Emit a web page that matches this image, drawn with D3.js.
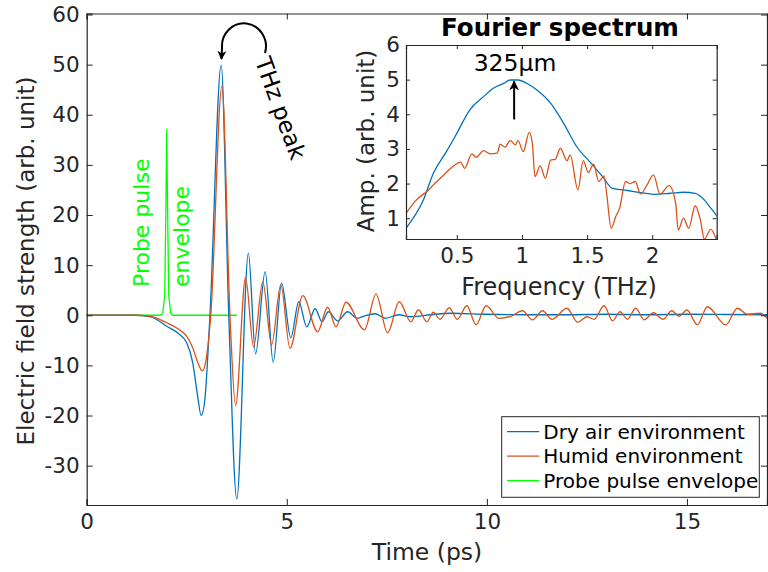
<!DOCTYPE html>
<html><head><meta charset="utf-8">
<script src="https://cdn.jsdelivr.net/npm/d3@7"></script>
<style>
html,body{margin:0;padding:0;background:#fff;}
svg text{font-family:"DejaVu Sans",sans-serif;fill:#262626;}
</style></head>
<body><svg id="c" width="768" height="572"></svg>
<script>
// ---------- data ----------
const timeDry = [0,1.2,1.6,2.0,2.3,2.5,2.65,2.77,2.86,2.95,3.08,3.36,3.55,3.75,4.04,4.22,4.46,4.66,4.87,5.1,5.3,5.5,5.71,5.88,6.04,6.27,6.52,6.76,6.95,7.2,7.47,7.8,8.1,8.6,9.1,10,11,12,13,14,15,16,17];
const valDry  = [0,0,-0.3,-2.2,-3.7,-5.5,-9.5,-16,-20,-17,0,49.9,0,-36.6,12.4,-7.7,8.7,-9.4,6.4,-4.5,2.7,-2.3,1.3,-1.3,0.7,-1.1,0.7,-0.6,-0.1,0.3,-0.6,0.1,-0.3,0.1,0.4,0.2,0.1,0.1,0.2,0.1,0.2,0.15,0.1];

const timeHumid = [0,1.2,1.6,2.0,2.3,2.5,2.65,2.78,2.89,2.98,3.1,3.38,3.58,3.72,3.97,4.17,4.4,4.62,4.85,5.08,5.4,5.77,6.02,6.23,6.48,6.94,7.23,7.52,7.81,8.1,8.29,8.5,8.66,8.83,9.06,9.26,9.5,9.73,9.98,10.3,10.6,10.89,11.14,11.39,11.63,12.0,12.27,12.5,12.68,12.93,13.14,13.33,13.51,13.72,13.93,14.16,14.4,14.62,14.8,15.0,15.26,15.51,15.97,16.26,16.51,16.84,17.0];
const valHumid  = [0,0,-0.2,-1.5,-2.8,-4.2,-6.5,-9.5,-11.1,-9,0,45.7,0,-18,7.5,-6.3,6.7,-5.9,6.1,-6.6,3.9,-3.3,1.6,-2.3,2.6,-2.9,4.2,-3.5,2.7,-1.3,1.1,-1.3,0.6,-0.8,1.5,-0.8,1.9,-1.9,1.9,-0.6,-0.2,0.9,-0.9,0.9,-0.8,1.4,-1.4,-0.3,-0.8,1.9,-1.1,0.7,-0.8,1.4,-0.9,0.5,-0.8,0.9,-0.2,1.05,-1.9,1.7,-1.9,1.4,0.2,0.4,-0.6];

const timeProbe = [0,1.85,1.9,1.95,1.98,2.0,2.02,2.05,2.1,2.15,3.75];
const valProbe  = [0,0,0.4,4,22,37.2,22,4,0.4,0,0];

const freqDry = [0.11,0.244,0.32,0.42,0.5,0.6,0.705,0.78,0.86,0.91,0.97,1.04,1.115,1.22,1.32,1.42,1.53,1.63,1.69,1.81,1.91,2.01,2.14,2.24,2.33,2.4,2.45,2.5];
const ampDry  = [0.71,1.53,2.3,2.92,3.45,4.13,4.51,4.75,4.89,4.99,4.99,4.89,4.7,4.32,3.74,3.07,2.59,2.15,1.87,1.8,1.74,1.69,1.72,1.75,1.72,1.53,1.29,1.05];

const freqHumid = [0.11,0.19,0.27,0.33,0.4,0.47,0.53,0.56,0.615,0.65,0.705,0.756,0.81,0.833,0.87,0.91,0.95,0.97,1.01,1.056,1.08,1.10,1.14,1.18,1.22,1.256,1.295,1.346,1.37,1.43,1.47,1.51,1.55,1.59,1.63,1.65,1.685,1.72,1.75,1.795,1.83,1.87,1.91,1.96,2.01,2.06,2.13,2.18,2.2,2.24,2.28,2.33,2.37,2.40,2.45,2.49];
const ampHumid  = [1.14,1.53,1.77,2.0,2.25,2.49,2.62,2.44,2.86,2.76,2.95,2.86,2.88,3.14,3.05,3.24,3.12,3.24,2.92,3.48,3.16,2.2,2.51,2.15,2.68,2.7,3.02,2.66,2.83,1.82,2.66,2.32,2.56,2.06,2.22,1.72,0.71,1.05,1.29,2.06,2.0,2.06,1.7,1.96,2.25,1.69,1.94,1.43,0.66,1.0,0.71,1.36,0.95,0.4,0.68,0.4];

const xTicks = [0,5,10,15];
const yTicks = [-30,-20,-10,0,10,20,30,40,50,60];
const insetXTicks = [0.5,1,1.5,2];
const insetYTicks = [1,2,3,4,5,6];
const seriesNames = ["Dry air environment","Humid environment","Probe pulse envelope"];
const seriesColors = ["#0072BD","#D95319","#00FF00"];

// ---------- drawing ----------
const svg = d3.select("#c");
const axisColor = "#262626";
const fmt = d => String(d);

const x = d3.scaleLinear().domain([0,17]).range([86.7,767]);
const y = d3.scaleLinear().domain([-37.85,60.2]).range([505,13.5]);

function zip(a,b){return a.map((v,i)=>[v,b[i]]);}

// main curves
const line = d3.line().x(d=>x(d[0])).y(d=>y(d[1])).curve(d3.curveMonotoneX);
const lineLin = d3.line().x(d=>x(d[0])).y(d=>y(d[1]));
const main = svg.append("g");
main.append("path").attr("d",lineLin(zip(timeProbe,valProbe))).attr("fill","none").attr("stroke",seriesColors[2]).attr("stroke-width",1.3);
main.append("path").attr("d",line(zip(timeDry,valDry))).attr("fill","none").attr("stroke",seriesColors[0]).attr("stroke-width",1.3);
main.append("path").attr("d",line(zip(timeHumid,valHumid))).attr("fill","none").attr("stroke",seriesColors[1]).attr("stroke-width",1.3);

// main axes
const tick = 6;
const gx = svg.append("g").attr("transform",`translate(0,505)`)
  .call(d3.axisBottom(x).tickValues(xTicks).tickSize(-tick).tickPadding(9).tickFormat(fmt));
const gy = svg.append("g").attr("transform",`translate(86.7,0)`)
  .call(d3.axisLeft(y).tickValues(yTicks).tickSize(-tick).tickPadding(7).tickFormat(fmt));
const gxt = svg.append("g").attr("transform",`translate(0,13.5)`)
  .call(d3.axisTop(x).tickValues(xTicks).tickSize(-tick).tickFormat(""));
const gyr = svg.append("g").attr("transform",`translate(767,0)`)
  .call(d3.axisRight(y).tickValues(yTicks).tickSize(-tick).tickFormat(""));
[gx,gy,gxt,gyr].forEach(g=>{
  g.selectAll("path.domain").attr("stroke",axisColor).attr("stroke-width",1.2);
  g.selectAll("line").attr("stroke",axisColor).attr("stroke-width",1);
  g.selectAll("text").style("font-size","21.5px").style("fill",axisColor).attr("font-family","DejaVu Sans");
});
gyr.select("path.domain").remove();
svg.append("line").attr("x1",767.5).attr("x2",767.5).attr("y1",13.5).attr("y2",505).attr("stroke",axisColor).attr("stroke-width",1.2);

svg.append("text").attr("x",427).attr("y",560).attr("text-anchor","middle").style("font-size","23.5px").text("Time (ps)");
svg.append("text").attr("transform","translate(34,261) rotate(-90)").attr("text-anchor","middle").style("font-size","23px").text("Electric field strength (arb. unit)");

// annotations
svg.append("text").attr("transform",`translate(${x(2.0)-18},287) rotate(-90)`).attr("text-anchor","start")
  .style("font-size","22px").style("fill","#00FF00").text("Probe pulse");
svg.append("text").attr("transform",`translate(${x(2.0)+22},287) rotate(-90)`).attr("text-anchor","start")
  .style("font-size","22px").style("fill","#00FF00").text("envelope");

svg.append("text").attr("transform","translate(273,111) rotate(70)").attr("text-anchor","middle")
  .style("font-size","23px").style("fill","#000").text("THz peak");

const defs = svg.append("defs");
defs.append("marker").attr("id","ah").attr("viewBox","0 0 10 10").attr("refX",9).attr("refY",5)
  .attr("markerWidth",4.5).attr("markerHeight",4.5).attr("orient","auto")
  .append("path").attr("d","M0,0 L10,5 L0,10 L3,5 Z").attr("fill","#000");
svg.append("path").attr("d","M265,53 A22,23 0 1,0 222,48 L221.5,59").attr("fill","none").attr("stroke","#000").attr("stroke-width",2).attr("marker-end","url(#ah)");

// legend
const lg = svg.append("g");
lg.append("rect").attr("x",501.7).attr("y",416.7).attr("width",257.6).attr("height",80.6).attr("fill","#fff").attr("stroke",axisColor).attr("stroke-width",1);
seriesNames.forEach((n,i)=>{
  const yy = 431.7 + i*24.5;
  lg.append("line").attr("x1",507).attr("x2",539.3).attr("y1",yy).attr("y2",yy).attr("stroke",seriesColors[i]).attr("stroke-width",1.3);
  lg.append("text").attr("x",543.3).attr("y",yy).attr("dy","0.35em").style("font-size","20px").style("fill","#000").text(n);
});

// ---------- inset ----------
const ix = d3.scaleLinear().domain([0.11,2.495]).range([406,716.7]);
const iy = d3.scaleLinear().domain([0.4,6]).range([239,45]);
const inset = svg.append("g");
inset.append("rect").attr("x",406).attr("y",45).attr("width",310.7).attr("height",194).attr("fill","#fff");
defs.append("clipPath").attr("id","ic").append("rect").attr("x",406).attr("y",45).attr("width",310.7).attr("height",194);
const iline = d3.line().x(d=>ix(d[0])).y(d=>iy(d[1])).curve(d3.curveMonotoneX);
const ig = inset.append("g").attr("clip-path","url(#ic)");
ig.append("path").attr("d",iline(zip(freqDry,ampDry))).attr("fill","none").attr("stroke",seriesColors[0]).attr("stroke-width",1.3);
ig.append("path").attr("d",iline(zip(freqHumid,ampHumid))).attr("fill","none").attr("stroke",seriesColors[1]).attr("stroke-width",1.3);

const itk = 4;
const igx = inset.append("g").attr("transform","translate(0,239)")
  .call(d3.axisBottom(ix).tickValues(insetXTicks).tickSize(-itk).tickPadding(9).tickFormat(fmt));
const igy = inset.append("g").attr("transform","translate(406,0)")
  .call(d3.axisLeft(iy).tickValues(insetYTicks).tickSize(-itk).tickPadding(6).tickFormat(fmt));
const igxt = inset.append("g").attr("transform","translate(0,45)")
  .call(d3.axisTop(ix).tickValues(insetXTicks).tickSize(-itk).tickFormat(""));
const igyr = inset.append("g").attr("transform","translate(716.7,0)")
  .call(d3.axisRight(iy).tickValues(insetYTicks).tickSize(-itk).tickFormat(""));
[igx,igy,igxt,igyr].forEach(g=>{
  g.selectAll("path.domain").attr("stroke",axisColor).attr("stroke-width",1.2);
  g.selectAll("line").attr("stroke",axisColor).attr("stroke-width",1);
  g.selectAll("text").style("font-size","21.5px").style("fill",axisColor).attr("font-family","DejaVu Sans");
});
inset.append("text").attr("x",559).attr("y",287).attr("dy","0.35em").attr("text-anchor","middle").style("font-size","24px").text("Frequency (THz)");
inset.append("text").attr("transform","translate(366,141) rotate(-90)").attr("text-anchor","middle").attr("dy","0.35em").style("font-size","23px").text("Amp. (arb. unit)");
inset.append("text").attr("x",560).attr("y",27).attr("dy","0.35em").attr("text-anchor","middle").style("font-size","24.5px").style("font-weight","bold").style("fill","#000").text("Fourier spectrum");
inset.append("text").attr("x",515).attr("y",63).attr("dy","0.35em").attr("text-anchor","middle").style("font-size","23.5px").style("fill","#000").text("325μm");
defs.append("marker").attr("id","ah2").attr("viewBox","0 0 10 10").attr("refX",9).attr("refY",5)
  .attr("markerWidth",5).attr("markerHeight",5).attr("orient","auto")
  .append("path").attr("d","M0,0 L10,5 L0,10 L3,5 Z").attr("fill","#000");
inset.append("line").attr("x1",ix(0.94)).attr("x2",ix(0.94)).attr("y1",iy(3.85)).attr("y2",iy(4.95)).attr("stroke","#000").attr("stroke-width",2).attr("marker-end","url(#ah2)");
</script></body></html>
